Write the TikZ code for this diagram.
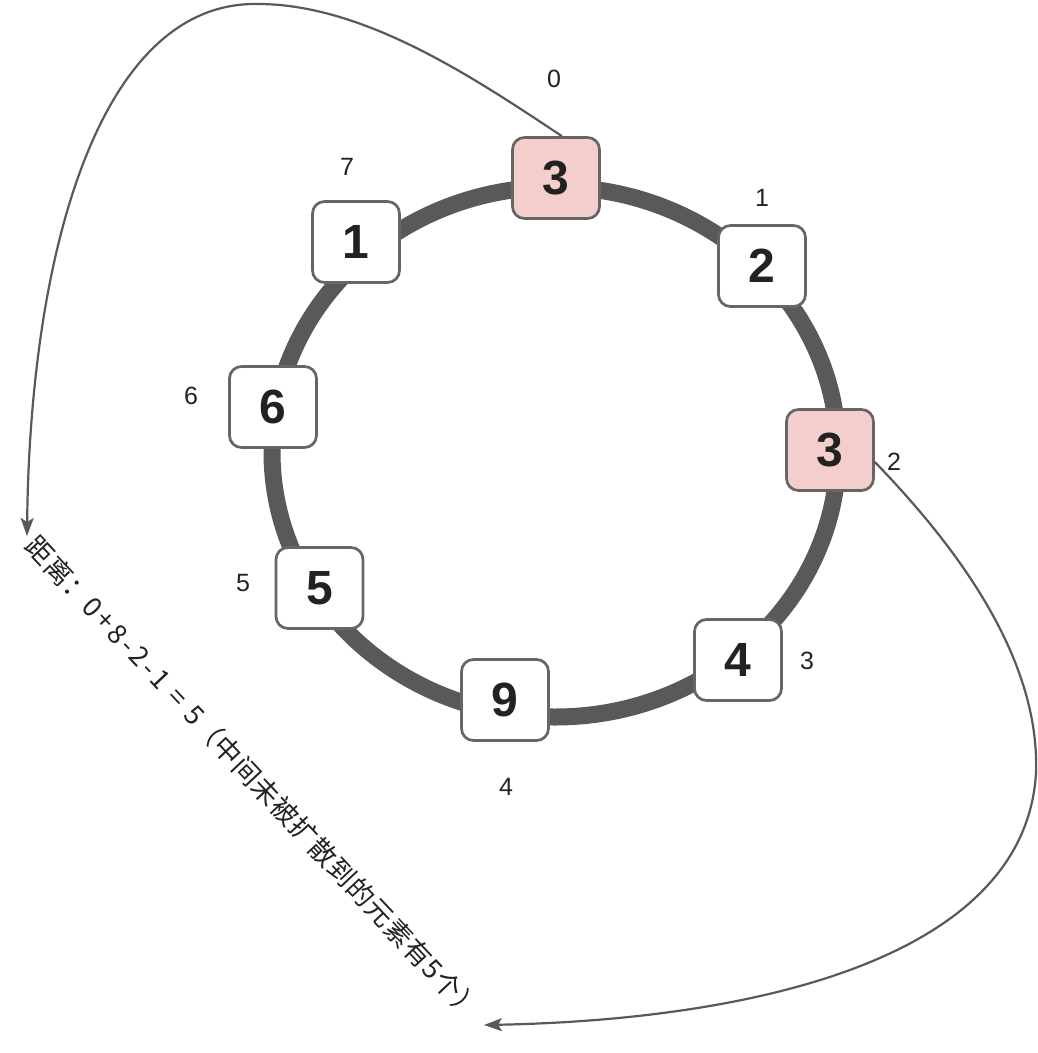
\documentclass[tikz,border=0pt]{standalone}
\usepackage{fontspec}
\setmainfont{Liberation Sans}
\newfontfamily\cjk[LetterSpace=3]{Noto Sans CJK SC}
\newfontfamily\cjkwide[LetterSpace=13]{Noto Sans CJK SC}
\usetikzlibrary{arrows.meta}
\definecolor{ringc}{HTML}{595959}
\definecolor{boxline}{HTML}{666666}
\definecolor{pinkf}{HTML}{F4CDCD}
\definecolor{txt}{HTML}{222222}
\begin{document}
\begin{tikzpicture}[x=1pt,y=-1pt,
  cell/.style={draw=boxline, line width=2.7pt, rounded corners=12pt, fill=white,
    minimum width=87pt, minimum height=81pt, inner sep=0pt,
    font=\fontsize{48}{52}\selectfont\bfseries, text=txt},
  hot/.style={cell, fill=pinkf},
  idx/.style={font=\fontsize{25}{28}\selectfont, text=txt, inner sep=0pt},
  link/.style={draw=ringc, line width=2.2pt, -{Stealth[length=18pt,width=13pt,inset=4pt]}}
]
\useasboundingbox (0,0) rectangle (1037,1053);
\draw[ringc, line width=17pt] (555,452) ellipse [x radius=283pt, y radius=265pt];

\node[hot]  (B0) at (556,178) {3};
\node[cell] (B1) at (762,266) {2};
\node[hot]  (B2) at (830,450) {3};
\node[cell] (B3) at (738,660) {4};
\node[cell] (B4) at (505,700) {9};
\node[cell] (B5) at (319.5,588) {5};
\node[cell] (B6) at (273,407) {6};
\node[cell] (B7) at (356,242) {1};

\node[idx] (L0) at (554,79) {0};
\node[idx] (L1) at (762,198) {1};
\node[idx] (L2) at (894,462) {2};
\node[idx] (L3) at (807,661) {3};
\node[idx] (L4) at (506,787) {4};
\node[idx] (L5) at (243,583) {5};
\node[idx] (L6) at (191,396) {6};
\node[idx] (L7) at (347,167) {7};

\coordinate (E1) at (27,536);
\coordinate (E2) at (484,1025);
\draw[link] (B0.82) .. controls (470,75) and (360,2) .. (253,4)
  .. controls (100,6) and (30,250) .. (E1);
\draw[link] (B2.-15) .. controls (960,550) and (1040,660) .. (1036,773)
  .. controls (1025,960) and (750,1020) .. (E2);

\node[rotate=-46.8, font=\fontsize{27}{30}\selectfont, text=txt, inner sep=0pt] (T) at (254,778)
  {{\cjk 距离：}{\cjkwide 0+8-2-1 = 5}{\cjk （中间未被扩散到的元素有5个）}};
\end{tikzpicture}
\end{document}
